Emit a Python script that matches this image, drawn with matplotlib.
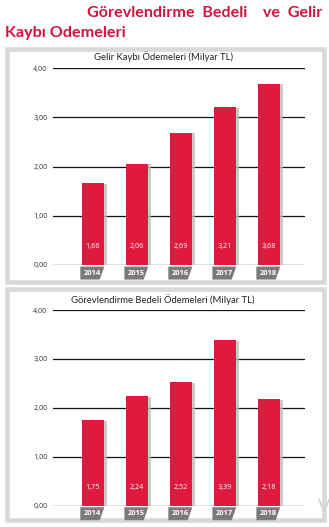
import matplotlib
matplotlib.use("Agg")
import matplotlib.pyplot as plt
import matplotlib.patheffects as pe
from matplotlib.patches import Rectangle
from matplotlib.path import Path
import numpy as np

years = ["2014", "2015", "2016", "2017", "2018"]
gelir_kaybi = [1.66, 2.06, 2.69, 3.21, 3.68]
gorevlendirme = [1.75, 2.24, 2.52, 3.39, 2.18]
yticks = [0, 1, 2, 3, 4]
ytick_labels = ["0,00", "1,00", "2,00", "3,00", "4,00"]
title_line1 = "Görevlendirme  Bedeli    ve  Gelir"
title_line2 = "Kaybı Odemeleri"
panel_titles = ["Gelir Kaybı Ödemeleri (Milyar TL)",
                "Görevlendirme Bedeli Ödemeleri (Milyar TL)"]

RED = "#e0193f"
TITLE_RED = "#d3133d"
GRAY_BOX = "#7a7a7a"
BORDER = "#d9d9d9"

plt.rcParams['font.family'] = ['Lato', 'DejaVu Sans']
SMALL = ['Open Sans', 'DejaVu Sans']

W, H = 329, 527
fig = plt.figure(figsize=(W / 100, H / 100), dpi=100)
fig.patch.set_facecolor("white")


def px(x, y):
    return x / W, 1 - y / H


def slanted(x0, y0, width, height, mutation_size):
    padx = 0.45 * mutation_size
    pady = 0.40 * mutation_size
    x0 -= padx
    y0 -= pady
    width += 2 * padx
    height += 2 * pady
    s = height * 0.35
    return Path([(x0, y0), (x0 + width - s, y0), (x0 + width, y0 + height),
                 (x0, y0 + height), (x0, y0)], closed=True)


# main title
fig.text(*px(87, 13), title_line1, color=TITLE_RED, fontsize=11.6,
         fontweight="bold", ha="left", va="center")
fig.text(*px(5, 33), title_line2, color=TITLE_RED, fontsize=11.6,
         fontweight="bold", ha="left", va="center")

# panel frames
for (top, bottom) in [(47, 284), (287, 522)]:
    x0, y0 = px(7, bottom - 2)
    x1, y1 = px(324, top + 2)
    fig.add_artist(Rectangle((x0, y0), x1 - x0, y1 - y0, transform=fig.transFigure,
                             facecolor="white", edgecolor=BORDER, linewidth=3.3,
                             zorder=0))

panels = [
    (gelir_kaybi, panel_titles[0], 68, 265, 57),
    (gorevlendirme, panel_titles[1], 310, 505.7, 300),
]

x = np.arange(len(years))
for values, ptitle, ytop, ybot, ytitle in panels:
    l, b = px(53, ybot)
    r, t = px(305, ytop)
    ax = fig.add_axes([l, b, r - l, t - b])
    ax.set_facecolor("none")
    ax.set_xlim(-0.909, 4.818)
    ax.set_ylim(0, 4)
    for yv in yticks:
        ax.axhline(yv, color="#111111", linewidth=0.9, zorder=1)
    bars = ax.bar(x, values, width=0.48, color=RED, zorder=3)
    for bar in bars:
        bar.set_path_effects([pe.SimplePatchShadow(offset=(2.2, -0.5),
                                                   shadow_rgbFace="#bdbdbd",
                                                   alpha=0.8),
                              pe.Normal()])
    for xi, v in zip(x, values):
        ax.text(xi, 0.38, f"{v:.2f}".replace(".", ","), color="white",
                fontsize=5.2, ha="center", va="center", zorder=4,
                family=SMALL)
    for s in ax.spines.values():
        s.set_visible(False)
    ax.set_yticks(yticks)
    ax.set_yticklabels(ytick_labels, fontsize=5.2, color="#333333",
                       family=SMALL)
    ax.tick_params(axis="y", length=0, pad=4)
    ax.set_xticks(x)
    ax.set_xticklabels([])
    ax.tick_params(axis="x", length=0)
    for xi, yr in zip(x, years):
        ax.annotate(yr, xy=(xi, 0), xytext=(-0.5, -5.8),
                    textcoords="offset points", ha="center", va="center",
                    fontsize=5.4, color="white", fontweight="bold",
                    family=SMALL, annotation_clip=False,
                    bbox=dict(boxstyle=slanted, facecolor=GRAY_BOX,
                              edgecolor="none"))
    fig.text(*px(163, ytitle), ptitle, fontsize=6.8, color="#222222",
             ha="center", va="center")

fig.text(*px(318, 507), "V", fontsize=13, color="#d0d0d0", ha="left",
         va="center")

fig.savefig("out.png", dpi=100)
